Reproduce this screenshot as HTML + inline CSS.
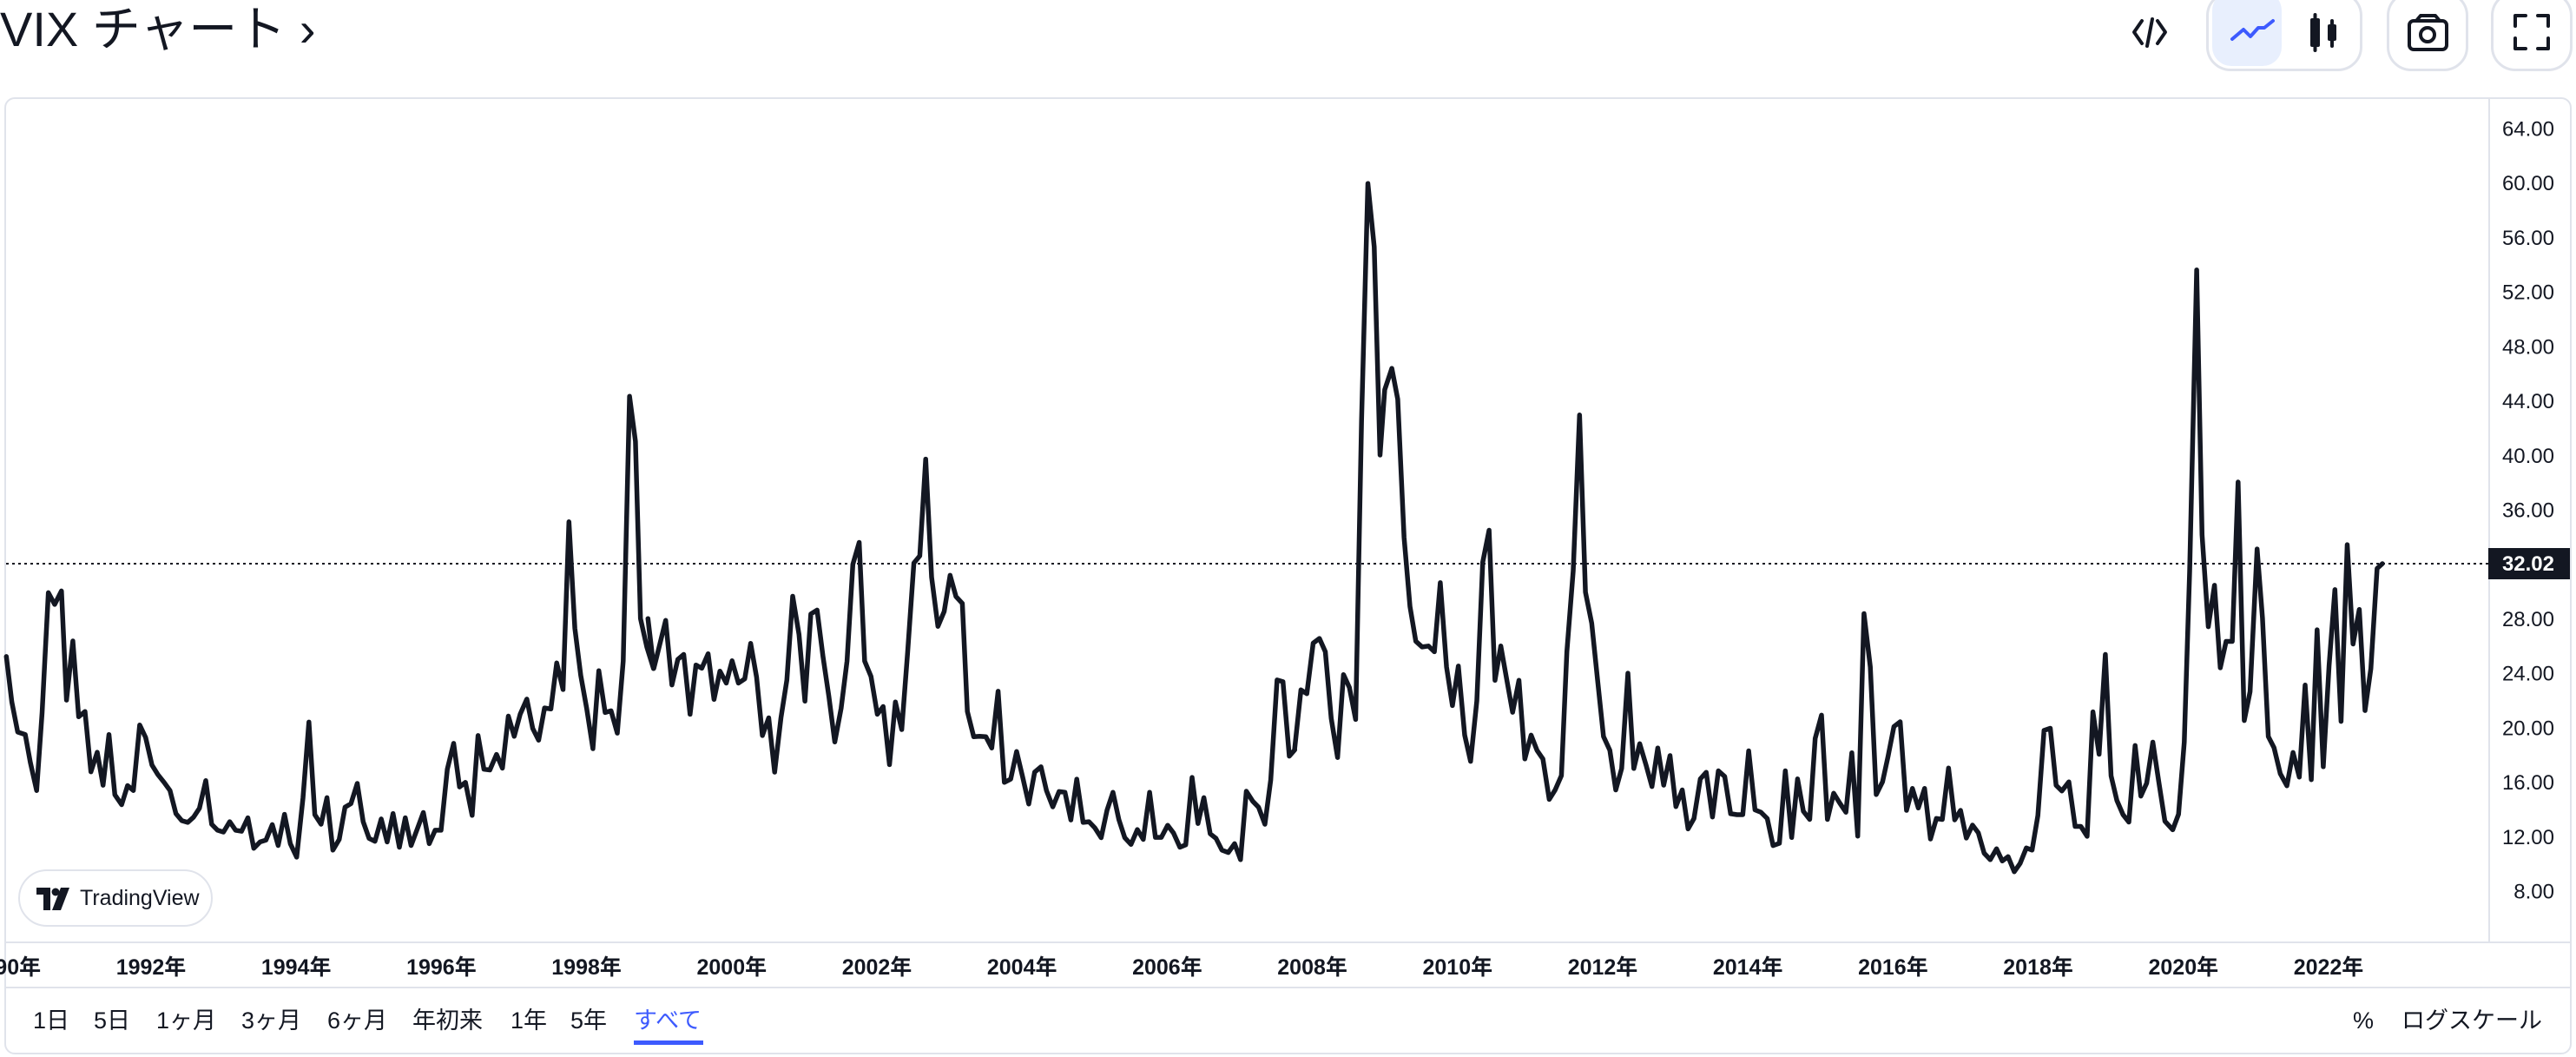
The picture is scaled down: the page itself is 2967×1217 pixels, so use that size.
<!DOCTYPE html>
<html><head><meta charset="utf-8">
<style>
html,body{margin:0;padding:0;background:#fff;}
body{width:2967px;height:1217px;position:relative;overflow:hidden;font-family:"Liberation Sans","Noto Sans CJK JP",sans-serif;color:#131722;}
.abs{position:absolute;}
</style></head>
<body>
<div class="abs" style="left:0;top:2px;font-size:56px;line-height:64px;white-space:nowrap;">VIX チャート ›</div>

<!-- top buttons -->
<div class="abs" style="left:2541px;top:-10px;width:180px;height:92px;border:3px solid #e0e3eb;border-radius:28px;box-sizing:border-box;"></div>
<div class="abs" style="left:2548px;top:-10px;width:80px;height:86px;background:#e8effd;border-radius:22px;"></div>
<div class="abs" style="left:2749px;top:-10px;width:94px;height:92px;border:3px solid #e0e3eb;border-radius:28px;box-sizing:border-box;"></div>
<div class="abs" style="left:2869px;top:-10px;width:94px;height:92px;border:3px solid #e0e3eb;border-radius:28px;box-sizing:border-box;"></div>
<svg class="abs" style="left:0;top:0" width="2967" height="100">
 <g fill="none" stroke="#131722" stroke-width="4" stroke-linecap="round" stroke-linejoin="round">
  <path d="M2467 24 L2458 37 L2467 50 M2485 24 L2494 37 L2485 50 M2479 22 L2473 53"/>
  <rect x="2663" y="23" width="7" height="29"/><path d="M2666.5 17 V58"/>
  <rect x="2683" y="30" width="6" height="15"/><path d="M2686 24 V53"/>
  <rect x="2775" y="24" width="43" height="33" rx="5"/><path d="M2783 24 L2788 18 H2805 L2810 24"/><circle cx="2796" cy="40" r="8"/>
  <path d="M2897 30 V18 H2909 M2923 18 H2935 V30 M2935 44 V56 H2923 M2909 56 H2897 V44"/>
 </g>
 <path d="M2571 45 L2584 34 L2592 42 L2601 32 L2608 32 L2618 24" fill="none" stroke="#3d5afe" stroke-width="4" stroke-linecap="round" stroke-linejoin="round"/>
</svg>

<!-- chart box -->
<div class="abs" style="left:5px;top:112px;width:2957px;height:1102px;border:2px solid #e0e3eb;border-radius:12px;box-sizing:border-box;"></div>
<div class="abs" style="left:2866px;top:113px;width:2px;height:972px;background:#e0e3eb;"></div>
<div class="abs" style="left:6px;top:1084px;width:2955px;height:2px;background:#e0e3eb;"></div>
<div class="abs" style="left:6px;top:1136px;width:2955px;height:2px;background:#e0e3eb;"></div>

<svg id="ch" class="abs" style="left:0;top:0" width="2967" height="1217">
 <line x1="7" y1="649" x2="2866" y2="649" stroke="#131722" stroke-width="2" stroke-dasharray="3,4"/>
 <polyline id="pl" fill="none" stroke="#131722" stroke-width="5.5" stroke-linejoin="round" stroke-linecap="round" points=""/>
 <rect x="2866" y="631" width="94" height="36" fill="#131722"/>
 <text x="2942" y="657" font-size="24" font-weight="bold" fill="#fff" text-anchor="end" font-family="Liberation Sans, sans-serif">32.02</text>
 <g id="yl" font-size="24" fill="#131722" text-anchor="end" font-family="Liberation Sans, sans-serif"></g>
 <g id="xl" font-size="25" font-weight="bold" fill="#131722" text-anchor="middle" font-family="Liberation Sans, Noto Sans CJK JP, sans-serif"></g>
</svg>

<!-- TradingView logo -->
<div class="abs" style="left:21px;top:1001px;width:224px;height:66px;border:2px solid #e0e3eb;border-radius:33px;box-sizing:border-box;background:#fff;"></div>
<svg class="abs" style="left:40px;top:1020px" width="50" height="30"><path d="M2 2 H18 V28 H10 V10 H2 Z" fill="#131722"/><circle cx="24" cy="7" r="4.5" fill="#131722"/><path d="M30 2 H40 L30 28 H20 Z" fill="#131722"/></svg>
<div class="abs" style="left:92px;top:1019px;font-size:25px;line-height:30px;">TradingView</div>

<!-- bottom toolbar -->
<div class="abs" style="top:1158px;left:0;font-size:27px;line-height:34px;white-space:nowrap;">
 <span class="abs" style="left:38px">1日</span>
 <span class="abs" style="left:108px">5日</span>
 <span class="abs" style="left:180px">1ヶ月</span>
 <span class="abs" style="left:278px">3ヶ月</span>
 <span class="abs" style="left:377px">6ヶ月</span>
 <span class="abs" style="left:475px">年初来</span>
 <span class="abs" style="left:588px">1年</span>
 <span class="abs" style="left:657px">5年</span>
 <span class="abs" style="left:730px;color:#3d5afe">すべて</span>
 <span class="abs" style="left:2710px">%</span>
 <span class="abs" style="left:2766px">ログスケール</span>
</div>
<div class="abs" style="left:730px;top:1198px;width:80px;height:5px;background:#3d5afe;"></div>

<script>
var Z=[
 [0,400,760,640,[[15,872],[28,1000],[42,1085],[60,1092],[72,1170],[87,1250],[100,1030],[115,692],[130,725],[146,687],[158,995],[173,828],[187,1042],[202,1027],[216,1197],[231,1142],[245,1235],[259,1092],[273,1262],[289,1290],[303,1236],[317,1250],[332,1065],[346,1100],[361,1178],[375,1205],[390,1227],[404,1250],[418,1315],[432,1335],[446,1340],[460,1325],[474,1300],[489,1222],[503,1345],[517,1362],[531,1367],[546,1338],[560,1362],[574,1365],[589,1327],[603,1413],[618,1395],[632,1390],[647,1346],[661,1405],[676,1317],[690,1400],[705,1438],[720,1270],[734,1057],[748,1318],[763,1345],[777,1270],[791,1418],[806,1388],[820,1297],[834,1287],[849,1230],[863,1338],[877,1385],[891,1393],[906,1330],[920,1395],[934,1315],[949,1410],[963,1327],[977,1405],[992,1357],[1006,1312],[1020,1400],[1034,1362],[1048,1362],[1063,1190],[1078,1117],[1092,1240],[1106,1227],[1122,1320],[1136,1095],[1150,1190],[1164,1192],[1180,1148],[1194,1187],[1208,1040],[1222,1097],[1236,1035],[1252,992],[1266,1075],[1280,1108],[1294,1017],[1309,1020],[1323,890],[1338,965],[1352,492],[1366,792],[1380,925],[1394,1018],[1409,1132],[1423,912],[1438,1030],[1452,1025],[1467,1088],[1481,885],[1496,138],[1510,265],[1522,765],[1537,845],[1553,906]]],
 [740,400,760,640,[[13,765],[27,905],[41,838],[55,770],[70,952],[84,880],[98,866],[113,1035],[127,896],[141,905],[156,864],[170,993],[184,913],[199,947],[213,884],[228,947],[243,935],[257,835],[271,930],[285,1095],[300,1045],[314,1198],[329,1045],[343,938],[357,702],[372,810],[386,998],[400,752],[415,741],[429,872],[443,985],[457,1113],[472,1018],[486,885],[500,612],[515,550],[528,885],[543,928],[558,1035],[572,1013],[587,1177],[601,1000],[616,1078],[630,860],[645,608],[659,588],[673,315],[687,648],[702,787],[717,745],[731,643],[745,703],[760,722],[772,1027],[787,1098],[801,1097],[816,1098],[830,1130],[845,970],[860,1227],[875,1218],[889,1140],[903,1210],[918,1288],[932,1198],[947,1183],[960,1250],[975,1296],[990,1253],[1004,1255],[1018,1333],[1032,1218],[1047,1340],[1061,1338],[1075,1355],[1090,1383],[1104,1305],[1118,1255],[1132,1332],[1146,1383],[1161,1402],[1176,1360],[1190,1388],[1205,1255],[1219,1382],[1233,1382],[1248,1348],[1262,1370],[1277,1410],[1291,1403],[1306,1213],[1320,1343],[1334,1270],[1349,1372],[1363,1385],[1377,1418],[1392,1425],[1407,1400],[1421,1445],[1435,1252],[1450,1280],[1464,1297],[1479,1345],[1493,1220],[1508,938],[1522,943],[1537,1153],[1550,1135]]],
 [1480,180,760,860,[[23,1245],[38,1120],[52,1128],[67,1022],[82,1012],[96,1040],[110,1180],[125,1262],[139,1088],[153,1115],[168,1182],[182,555],[197,57],[212,190],[226,627],[237,490],[254,445],[268,510],[283,800],[297,945],[311,1018],[326,1030],[341,1028],[355,1040],[369,895],[384,1072],[398,1153],[412,1070],[427,1215],[441,1270],[456,1143],[470,852],[485,785],[499,1100],[513,1028],[527,1098],[541,1167],[556,1100],[570,1265],[585,1215],[599,1247],[613,1265],[628,1350],[642,1330],[657,1300],[670,1040],[685,870],[700,543],[714,915],[729,980],[743,1100],[757,1218],[772,1247],[786,1330],[800,1285],[815,1085],[829,1285],[843,1233],[858,1278],[872,1323],[886,1242],[900,1320],[915,1258],[929,1365],[944,1330],[958,1412],[972,1390],[987,1307],[1001,1293],[1016,1387],[1030,1290],[1045,1302],[1059,1380],[1074,1382],[1088,1382],[1102,1248],[1117,1372],[1131,1377],[1146,1390],[1160,1447],[1175,1442],[1189,1290],[1204,1430],[1218,1307],[1232,1375],[1247,1392],[1260,1222],[1275,1173],[1289,1392],[1304,1337],[1318,1357],[1333,1377],[1347,1252],[1361,1427],[1376,960],[1391,1072],[1405,1340],[1420,1313],[1433,1260],[1447,1197],[1462,1187],[1477,1373],[1491,1327],[1505,1368],[1520,1327],[1534,1433],[1548,1390],[1562,1392]]],
 [2220,260,747,780,[[51,1255],[66,1375],[80,1353],[94,1417],[109,1387],[123,1405],[137,1452],[152,1467],[167,1442],[181,1470],[195,1460],[210,1495],[224,1476],[239,1440],[253,1445],[267,1365],[282,1168],[297,1163],[311,1295],[325,1308],[342,1287],[357,1390],[371,1390],[386,1413],[400,1125],[415,1223],[430,992],[444,1273],[458,1330],[473,1363],[487,1380],[502,1203],[516,1320],[530,1290],[545,1195],[559,1285],[574,1378],[593,1398],[607,1362],[621,1195],[634,800],[651,102],[664,715],[679,928],[694,832],[708,1023],[722,962],[737,962],[751,593],[766,1145],[780,1078],[797,748],[810,908],[824,1182],[838,1208],[853,1268],[869,1296],[884,1219],[899,1276],[913,1063],[928,1282],[942,935],[957,1252],[971,1018],[985,842],[1000,1147],[1015,738],[1029,968],[1044,888],[1058,1122],[1072,1025],[1087,793],[1100,782]]]
];
var pts=[];
Z.forEach(function(z){var sx=1568/z[2],sy=1568/z[3];z[4].forEach(function(p){pts.push((z[0]+p[0]/sx).toFixed(1)+","+(z[1]+p[1]/sy).toFixed(1));});});
document.getElementById("pl").setAttribute("points",pts.join(" "));
var NS="http://www.w3.org/2000/svg";
var yl=document.getElementById("yl");
for(var v=64;v>=8;v-=4){if(v==32)continue;var t=document.createElementNS(NS,"text");t.setAttribute("x",2942);t.setAttribute("y",(148+(64-v)*15.68+8.5).toFixed(1));t.textContent=v.toFixed(2);yl.appendChild(t);}
var xl=document.getElementById("xl");
for(var y=1990;y<=2022;y+=2){var t=document.createElementNS(NS,"text");t.setAttribute("x",(174+(y-1992)*83.6).toFixed(1));t.setAttribute("y",1122);t.textContent=y+"年";xl.appendChild(t);}
</script>
</body></html>
